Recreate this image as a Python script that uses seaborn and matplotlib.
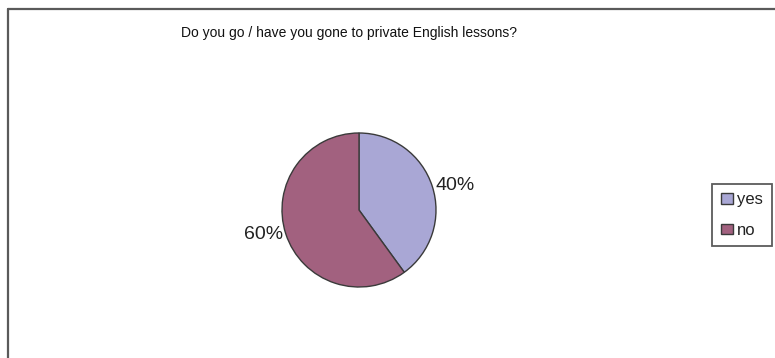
import matplotlib
matplotlib.use("Agg")
import matplotlib.pyplot as plt
from matplotlib.lines import Line2D
import seaborn as sns

# Survey answers
categories = ["yes", "no"]
shares = [40, 60]
colors = ["#A9A7D5", "#A2617F"]
title = "Do you go / have you gone to private English lessons?"

sns.set_theme(style="white")
plt.rcParams["font.family"] = ["Liberation Sans", "DejaVu Sans"]

W, H = 775, 358
fig = plt.figure(figsize=(W / 100, H / 100), dpi=100)
fig.patch.set_facecolor("white")

# Chart frame: top and left edges only
fig.add_artist(Line2D([8 / W, 1.0], [1 - 9 / H, 1 - 9 / H],
                      transform=fig.transFigure, color="#5a5a5a", lw=1.6))
fig.add_artist(Line2D([8 / W, 8 / W], [1 - 9 / H, 0.0],
                      transform=fig.transFigure, color="#5a5a5a", lw=1.6))

fig.text(349 / W, 1 - 33 / H, title, ha="center", va="center",
         fontsize=10, color="#111111")

# Pie
cx, cy, r = 359, 210, 77
ax = fig.add_axes([(cx - r) / W, (H - cy - r) / H, 2 * r / W, 2 * r / H])
total = sum(shares)
pct_labels = [f"{v / total * 100:.0f}%" for v in shares]
wedges, texts = ax.pie(
    shares,
    labels=pct_labels,
    colors=colors,
    startangle=90,
    counterclock=False,
    labeldistance=1.04,
    wedgeprops=dict(edgecolor="#3a3a3a", linewidth=1.0),
    textprops=dict(fontsize=14, color="#222222"),
)
ax.set_xlim(-1, 1)
ax.set_ylim(-1, 1)
ax.set_aspect("equal")
ax.axis("off")

leg = fig.legend(
    wedges, categories,
    loc="center", bbox_to_anchor=(742 / W, 1 - 215 / H),
    fontsize=12, frameon=True, fancybox=False,
    handlelength=0.75, handleheight=0.6, handletextpad=0.25,
    labelspacing=0.93, borderpad=0.5, borderaxespad=0,
)
frame = leg.get_frame()
frame.set_edgecolor("#333333")
frame.set_linewidth(1.3)
frame.set_facecolor("white")
for t in leg.get_texts():
    t.set_color("#222222")

fig.savefig("out.png", dpi=100, facecolor="white")
